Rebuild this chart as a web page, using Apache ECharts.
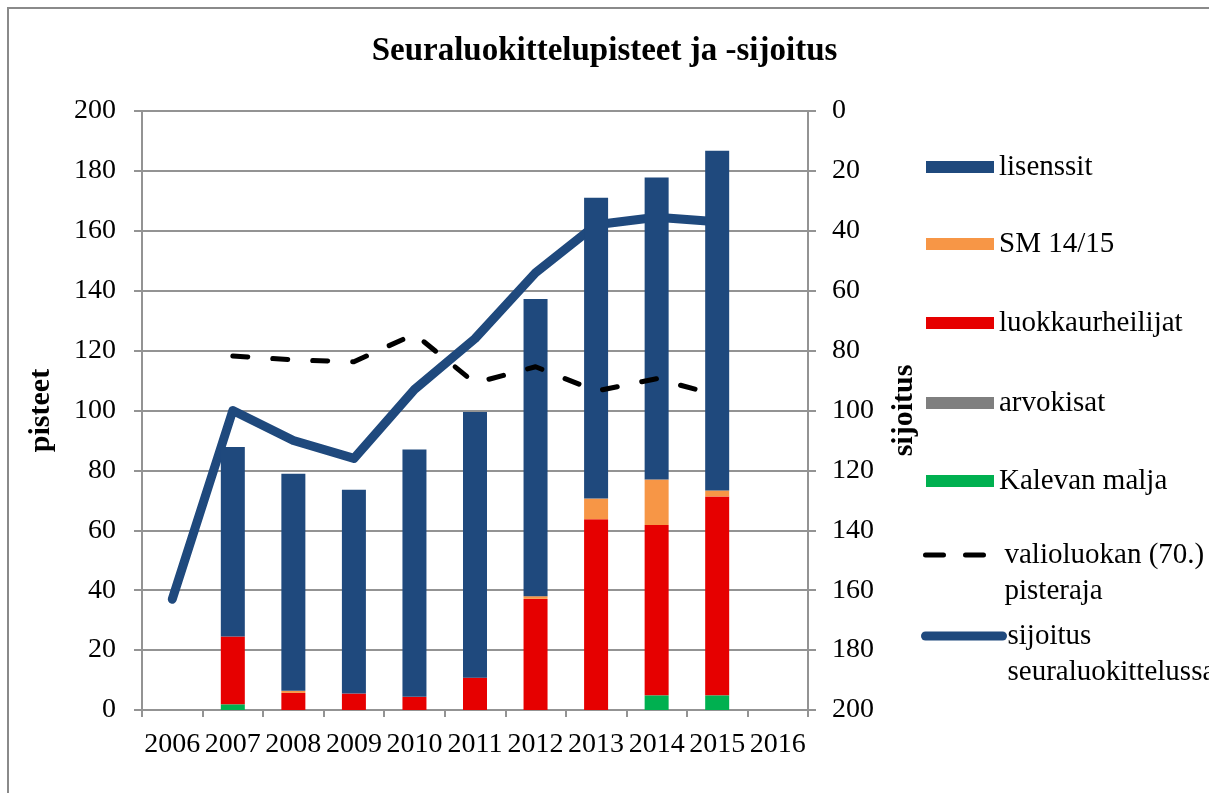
<!DOCTYPE html>
<html>
<head>
<meta charset="utf-8">
<script src="https://cdn.jsdelivr.net/npm/echarts@6/dist/echarts.min.js"></script>
<style>
    html, body {
        margin: 0;
        padding: 0;
        background: #fff;
    }
    #chart {
        width: 1209px;
        height: 793px;
    }
</style>
</head>
<body>
<div id="chart"></div>
<script>
// vuodet (x-akseli)
const vuodet = ['2006', '2007', '2008', '2009', '2010', '2011', '2012', '2013', '2014', '2015', '2016'];

// pinotut pylväät, alhaalta ylös
const kalevanMalja = [0, 1.9, 0, 0, 0, 0, 0, 0, 4.9, 4.9, 0];
const arvokisat = [0, 0, 0, 0, 0, 0, 0, 0, 0, 0, 0];
const luokkaurheilijat = [0, 22.6, 5.7, 5.5, 4.4, 10.8, 37.1, 63.7, 56.9, 66.4, 0];
const sm1415 = [0, 0, 0.7, 0, 0, 0, 0.9, 6.9, 15.2, 2.0, 0];
const lisenssit = [0, 63.3, 72.5, 68.0, 82.6, 88.7, 99.2, 100.4, 100.8, 113.4, 0];

// viivat
const pisteraja = [null, 118.2, 116.9, 116.3, 125.5, 109.2, 114.6, 106.5, 110.6, 105.1, null];
const sijoitus = [163, 100, 110, 116, 93, 76, 54, 38, 35.5, 37, null];

const fontti = 'Liberation Serif';
const harmaa = '#939393';

const chart = echarts.init(document.getElementById('chart'));

function palkki(nimi, data, vari) {
    return {
        name: nimi,
        type: 'bar',
        stack: 'pisteet',
        barWidth: 24,
        z: 2,
        itemStyle: { color: vari },
        data: data
    };
}

function selite(nimi, top, extra) {
    return Object.assign({
        data: [nimi],
        left: 926,
        top: top,
        padding: 0,
        itemWidth: 68,
        itemHeight: 12,
        icon: 'rect',
        selectedMode: false,
        textStyle: { fontFamily: fontti, fontSize: 29, lineHeight: 36, color: '#000' }
    }, extra || {});
}

// kaksiriviset selitteet: tyhjä rivi alkuun, jotta ensimmäinen rivi on kuvakkeen kohdalla
function kaksiRivia(nimi) {
    return '\n' + nimi;
}

const option = {
    animation: false,
    title: {
        text: 'Seuraluokittelupisteet ja -sijoitus',
        left: 'center',
        top: 30,
        textStyle: { fontFamily: fontti, fontSize: 33, fontWeight: 'bold', color: '#000' }
    },
    graphic: [
        {
            type: 'rect',
            shape: { x: 8, y: 8, width: 1240, height: 820 },
            style: { fill: 'none', stroke: '#8a8a8a', lineWidth: 2 },
            silent: true
        }
    ],
    legend: [
        selite('lisenssit', 149),
        selite('SM 14/15', 226),
        selite('luokkaurheilijat', 305),
        selite('arvokisat', 385),
        selite('Kalevan malja', 463),
        selite('valioluokan (70.)\npisteraja', 501, {
            left: 923,
            itemWidth: 74,
            icon: null,
            formatter: kaksiRivia,
            itemStyle: { color: 'rgba(0,0,0,0)', borderWidth: 0 },
            lineStyle: { width: 5, type: [18, 22], cap: 'round' }
        }),
        selite('sijoitus\nseuraluokittelussa', 582, {
            left: 921,
            itemWidth: 77,
            icon: null,
            formatter: kaksiRivia,
            itemStyle: { color: 'rgba(0,0,0,0)', borderWidth: 0 },
            lineStyle: { width: 9, cap: 'round' }
        })
    ],
    grid: {
        left: 142,
        right: 401,
        top: 111,
        bottom: 83
    },
    xAxis: {
        type: 'category',
        data: vuodet,
        axisLine: { lineStyle: { color: harmaa, width: 2 } },
        axisTick: { show: true, length: 7, lineStyle: { color: harmaa, width: 2 } },
        axisLabel: { interval: 0, margin: 21, fontFamily: fontti, fontSize: 28, color: '#000' }
    },
    yAxis: [
        {
            type: 'value',
            name: 'pisteet',
            nameLocation: 'middle',
            nameRotate: 90,
            nameGap: 86,
            nameTextStyle: { fontFamily: fontti, fontSize: 30, fontWeight: 'bold', color: '#000' },
            min: 0,
            max: 200,
            interval: 20,
            axisLine: { show: true, lineStyle: { color: harmaa, width: 2 } },
            axisTick: { show: true, length: 8, lineStyle: { color: harmaa, width: 2 } },
            axisLabel: { margin: 26, fontFamily: fontti, fontSize: 28, color: '#000' },
            splitLine: { lineStyle: { color: harmaa, width: 2 } }
        },
        {
            type: 'value',
            name: 'sijoitus',
            nameLocation: 'middle',
            nameRotate: 90,
            nameGap: 81,
            nameTextStyle: { fontFamily: fontti, fontSize: 30, fontWeight: 'bold', color: '#000' },
            inverse: true,
            min: 0,
            max: 200,
            interval: 20,
            axisLine: { show: true, lineStyle: { color: harmaa, width: 2 } },
            axisTick: { show: true, length: 8, lineStyle: { color: harmaa, width: 2 } },
            axisLabel: { margin: 24, fontFamily: fontti, fontSize: 28, color: '#000' },
            splitLine: { show: false }
        }
    ],
    series: [
        palkki('Kalevan malja', kalevanMalja, '#00b050'),
        palkki('arvokisat', arvokisat, '#7f7f7f'),
        palkki('luokkaurheilijat', luokkaurheilijat, '#e60000'),
        palkki('SM 14/15', sm1415, '#f79646'),
        palkki('lisenssit', lisenssit, '#1f497d'),
        {
            name: 'valioluokan (70.)\npisteraja',
            type: 'line',
            yAxisIndex: 0,
            z: 3,
            symbol: 'none',
            lineStyle: { color: '#000', width: 5, type: [15, 25], cap: 'round', join: 'round' },
            itemStyle: { color: '#000' },
            data: pisteraja
        },
        {
            name: 'sijoitus\nseuraluokittelussa',
            type: 'line',
            yAxisIndex: 1,
            z: 1,
            symbol: 'none',
            lineStyle: { color: '#1f497d', width: 9, cap: 'round', join: 'round' },
            itemStyle: { color: '#1f497d' },
            data: sijoitus
        }
    ]
};

chart.setOption(option);
</script>
</body>
</html>
